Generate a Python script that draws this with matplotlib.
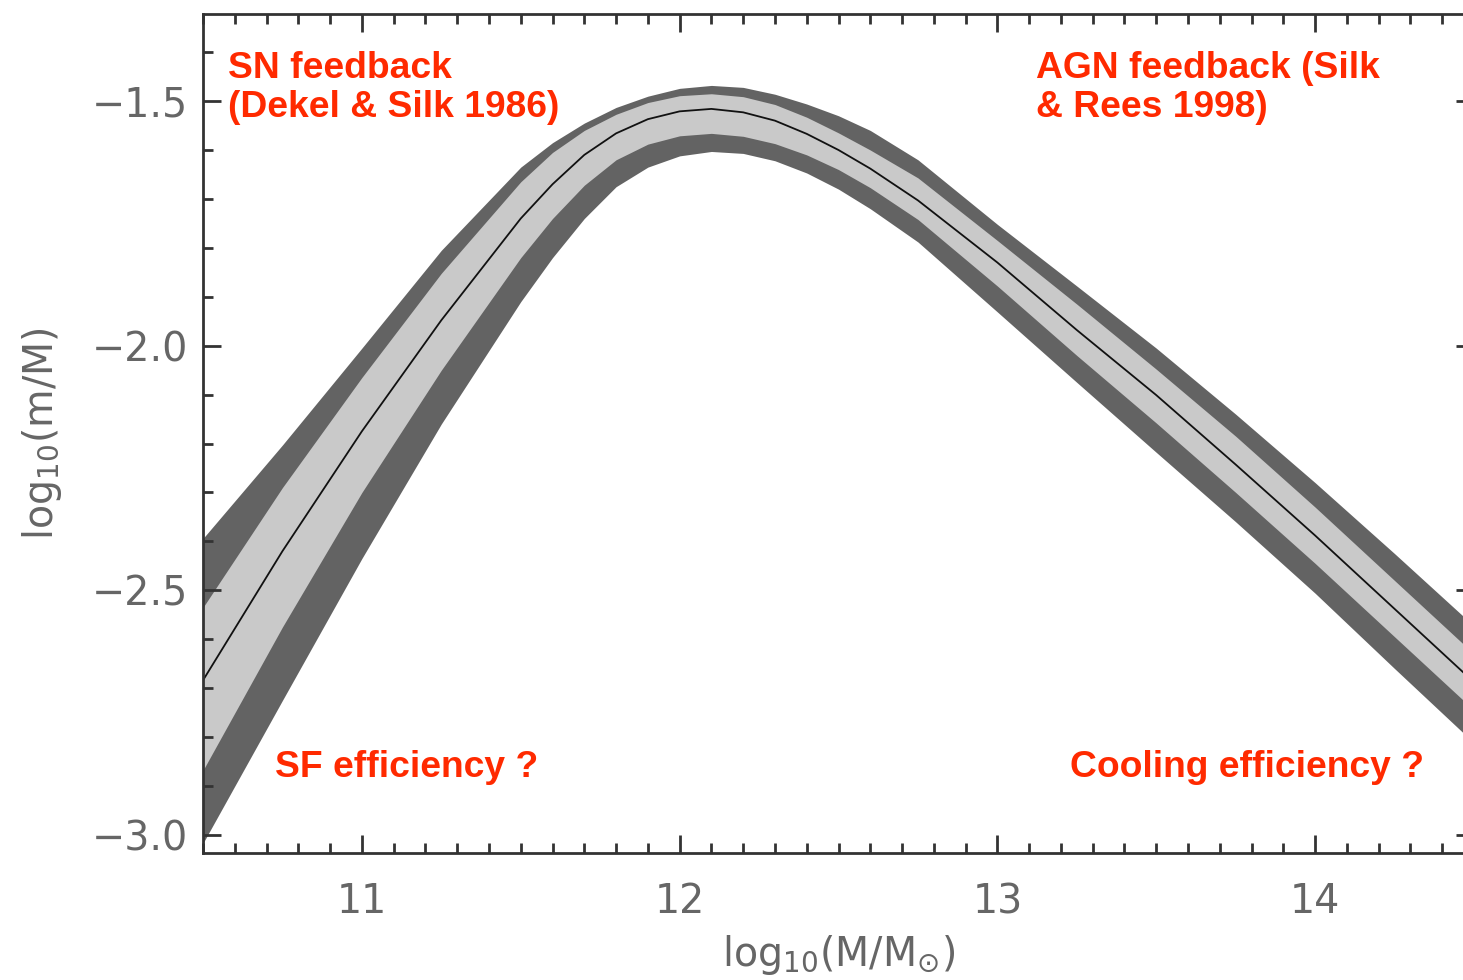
import matplotlib.pyplot as plt
from matplotlib.ticker import MultipleLocator

# halo mass grid and the read-off curves (log10 m/M)
log_mass = [10.5, 10.75, 11.0, 11.25, 11.5, 11.6, 11.7, 11.8, 11.9, 12.0, 12.1, 12.2,
            12.3, 12.4, 12.5, 12.6, 12.75, 13.0, 13.25, 13.5, 13.75, 14.0, 14.25, 14.5]
median = [-2.684, -2.420, -2.175, -1.948, -1.740, -1.670, -1.610, -1.566, -1.537, -1.521,
          -1.516, -1.523, -1.540, -1.567, -1.600, -1.638, -1.703, -1.830, -1.968, -2.101,
          -2.243, -2.388, -2.538, -2.688]
inner_hi = [-2.535, -2.290, -2.065, -1.852, -1.665, -1.605, -1.560, -1.527, -1.503, -1.489,
            -1.485, -1.491, -1.507, -1.533, -1.565, -1.600, -1.657, -1.785, -1.915, -2.048,
            -2.185, -2.330, -2.480, -2.630]
inner_lo = [-2.868, -2.575, -2.300, -2.050, -1.820, -1.740, -1.672, -1.620, -1.588, -1.571,
            -1.566, -1.572, -1.587, -1.610, -1.640, -1.677, -1.742, -1.878, -2.020, -2.158,
            -2.300, -2.445, -2.595, -2.745]
outer_hi = [-2.394, -2.203, -2.005, -1.805, -1.635, -1.585, -1.545, -1.513, -1.490, -1.474,
            -1.468, -1.472, -1.486, -1.506, -1.530, -1.560, -1.620, -1.752, -1.878, -2.005,
            -2.140, -2.280, -2.425, -2.573]
outer_lo = [-3.017, -2.725, -2.435, -2.160, -1.910, -1.820, -1.740, -1.675, -1.635, -1.612,
            -1.603, -1.607, -1.622, -1.647, -1.680, -1.720, -1.788, -1.931, -2.075, -2.218,
            -2.360, -2.506, -2.660, -2.812]

x_ticks = [11, 12, 13, 14]
y_ticks = [-3.0, -2.5, -2.0, -1.5]

RED = "#ff2a00"
GREY = "#666666"

fig = plt.figure(figsize=(14.63, 9.8), dpi=100)
ax = fig.add_axes([203 / 1463, 127 / 980, 1271 / 1463, 839 / 980])

ax.fill_between(log_mass, outer_lo, outer_hi, color="#636363", lw=0)
ax.fill_between(log_mass, inner_lo, inner_hi, color="#c9c9c9", lw=0)
ax.plot(log_mass, median, color="#111111", lw=1.3)

ax.set_xlim(10.5, 14.5)
ax.set_ylim(-3.037, -1.322)
ax.set_xticks(x_ticks)
ax.set_yticks(y_ticks)
ax.set_yticklabels([f"\u2212{abs(v):.1f}" for v in y_ticks])
ax.xaxis.set_minor_locator(MultipleLocator(0.1))
ax.yaxis.set_minor_locator(MultipleLocator(0.1))
ax.tick_params(which="both", direction="in", top=True, right=True,
               color="#333333", width=2)
ax.tick_params(which="major", length=13)
ax.tick_params(which="minor", length=7)
ax.tick_params(axis="x", which="major", pad=21, labelsize=28.5, labelcolor=GREY)
ax.tick_params(axis="y", which="major", pad=11, labelsize=28.5, labelcolor=GREY)
for sp in ax.spines.values():
    sp.set_color("#333333")
    sp.set_linewidth(2)

ax.set_xlabel("log$_{10}$(M/M$_{\u2299}$)", fontsize=28.5, color=GREY, labelpad=8)
ax.set_ylabel(r"log$_{10}$(m/M)", fontsize=28.5, color=GREY, labelpad=20)

txt = dict(color=RED, fontsize=26.8, fontweight="bold", family="Liberation Sans",
           transform=fig.transFigure, linespacing=1.15)
fig.text(228 / 1463, 1 - 51 / 980, "SN feedback\n(Dekel & Silk 1986)", va="top", **txt)
fig.text(1036 / 1463, 1 - 51 / 980, "AGN feedback (Silk\n& Rees 1998)", va="top", **txt)
fig.text(275 / 1463, 1 - 750 / 980, "SF efficiency ?", va="top", **txt)
fig.text(1070 / 1463, 1 - 750 / 980, "Cooling efficiency ?", va="top", **txt)

fig.savefig("out.png", dpi=100)
